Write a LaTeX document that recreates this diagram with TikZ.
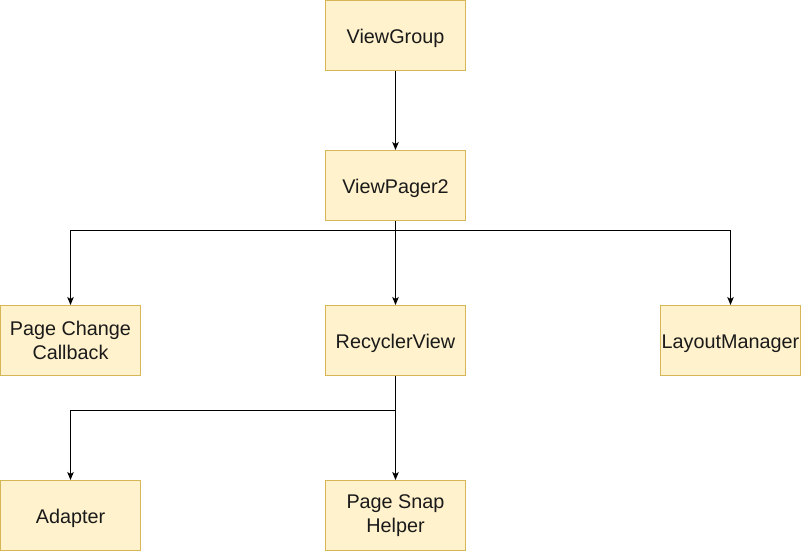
\documentclass[tikz,border=0pt]{standalone}
\usepackage{fontspec}
\setmainfont{Liberation Sans}
\usetikzlibrary{arrows.meta}
\definecolor{boxfill}{HTML}{FFF2CC}
\definecolor{boxline}{HTML}{D6B656}
\definecolor{txt}{HTML}{1A1A1A}
\tikzset{
  box/.style={draw=boxline, fill=boxfill, line width=1pt, minimum width=140pt, minimum height=70pt,
    inner sep=0pt, align=center, text=txt, font=\fontsize{19.8}{24}\selectfont},
  onebox/.style={box, text height=19pt, text depth=4pt},
  conn/.style={line width=1pt, -{Stealth[length=8pt,width=6.5pt,inset=2pt]}},
  plain/.style={line width=1pt}
}
\begin{document}
\begin{tikzpicture}[x=1pt,y=-1pt]
\useasboundingbox (0,0) rectangle (802,552);
\node[onebox] (vg) at (395.5,35.5) {ViewGroup};
\node[onebox] (vp) at (395.5,185.5) {ViewPager2};
\node[box] (pcc) at (70.5,340.5) {Page Change\\Callback};
\node[onebox] (rv) at (395.5,340.5) {RecyclerView};
\node[onebox] (lm) at (730.5,340.5) {LayoutManager};
\node[onebox] (ad) at (70.5,515.5) {Adapter};
\node[box] (psh) at (395.5,515.5) {Page Snap\\Helper};
\coordinate (j1) at (395.5,230.5);
\coordinate (j2) at (395.5,410.5);
\draw[conn] (vg) -- (vp);
\draw[plain] (vp.south) -- (j1);
\draw[conn] (j1) -| (pcc.north);
\draw[conn] (j1) -- (rv.north);
\draw[conn] (j1) -| (lm.north);
\draw[plain] (rv.south) -- (j2);
\draw[conn] (j2) -| (ad.north);
\draw[conn] (j2) -- (psh.north);
\end{tikzpicture}
\end{document}
